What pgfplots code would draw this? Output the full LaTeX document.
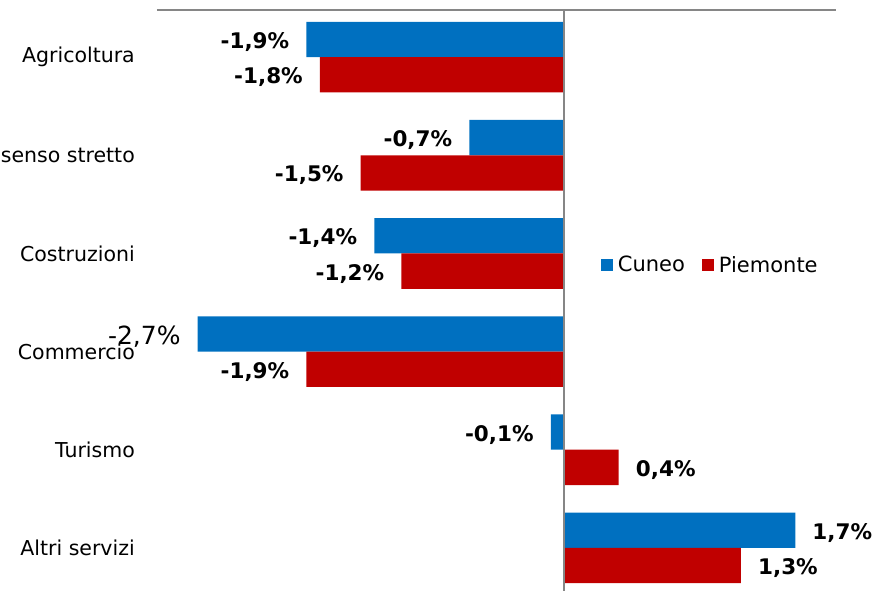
\documentclass[border=0pt]{standalone}
\usepackage{pgfplots}
\pgfplotsset{compat=1.18}
\usepackage{fontspec}
\setmainfont{DejaVu Sans}
\definecolor{cblue}{RGB}{0,112,192}
\definecolor{cred}{RGB}{192,0,0}
\definecolor{axgray}{RGB}{134,134,134}
\newcommand{\lab}{\fontsize{20.5}{24}\selectfont}
\newcommand{\blab}{\fontsize{21.5}{25}\selectfont\bfseries}
\newcommand{\pnum}{\pgfmathprintnumber[fixed,fixed zerofill,precision=1,use comma,assume math mode=true]{\pgfplotspointmeta}\%}
\begin{document}
\begin{tikzpicture}[x=1pt,y=1pt]
\begin{axis}[
  at={(157pt,-10pt)}, anchor=north west,
  scale only axis, width=679pt, height=585pt,
  xbar, bar width=0.36,
  xmin=-3, xmax=2, ymin=-0.48, ymax=5.48, y dir=reverse,
  axis line style={draw=none},
  major tick length=0pt,
  xtick=\empty,
  ytick={0,1,2,3,4,5},
  yticklabels={Agricoltura,Industria in senso stretto,Costruzioni,Commercio,Turismo,Altri servizi},
  yticklabel style={font=\lab, anchor=east, inner sep=0pt, xshift=-22pt},
  every node near coord/.append style={font=\blab, text=black, inner xsep=17pt, inner ysep=0pt, yshift=-2.5pt},
  legend style={at={(0.817,0.5645)}, anchor=center, draw=none, fill=none, legend columns=-1, font=\fontsize{21}{25}\selectfont,
    /tikz/every even column/.append style={column sep=12pt},
    nodes={inner xsep=5pt}},
  legend image code/.code={\fill[#1] (0pt,-6pt) rectangle (12pt,6pt);},
  clip=false,
]
\addplot[fill=cblue, draw=none, bar shift=-0.18, visualization depends on={value \coordindex\as\myidx},
  nodes near coords={\ifnum\myidx=3\relax\fontsize{25}{30}\fontseries{m}\selectfont\fi\pnum}]
  coordinates {(-1.9,0) (-0.7,1) (-1.4,2) (-2.7,3) (-0.1,4) (1.7,5)};
\addplot[fill=cred, draw=none, bar shift=0.18, nodes near coords={\pnum}]
  coordinates {(-1.8,0) (-1.5,1) (-1.2,2) (-1.9,3) (0.4,4) (1.3,5)};
\legend{Cuneo,Piemonte}
\draw[axgray, line width=2pt] (axis cs:-3,-0.48) -- (axis cs:2,-0.48);
\draw[axgray, line width=2pt] (axis cs:0,-0.48) -- (axis cs:0,5.48);
\end{axis}
\pgfresetboundingbox
\useasboundingbox (0,0) rectangle (874,-590);
\end{tikzpicture}
\end{document}
